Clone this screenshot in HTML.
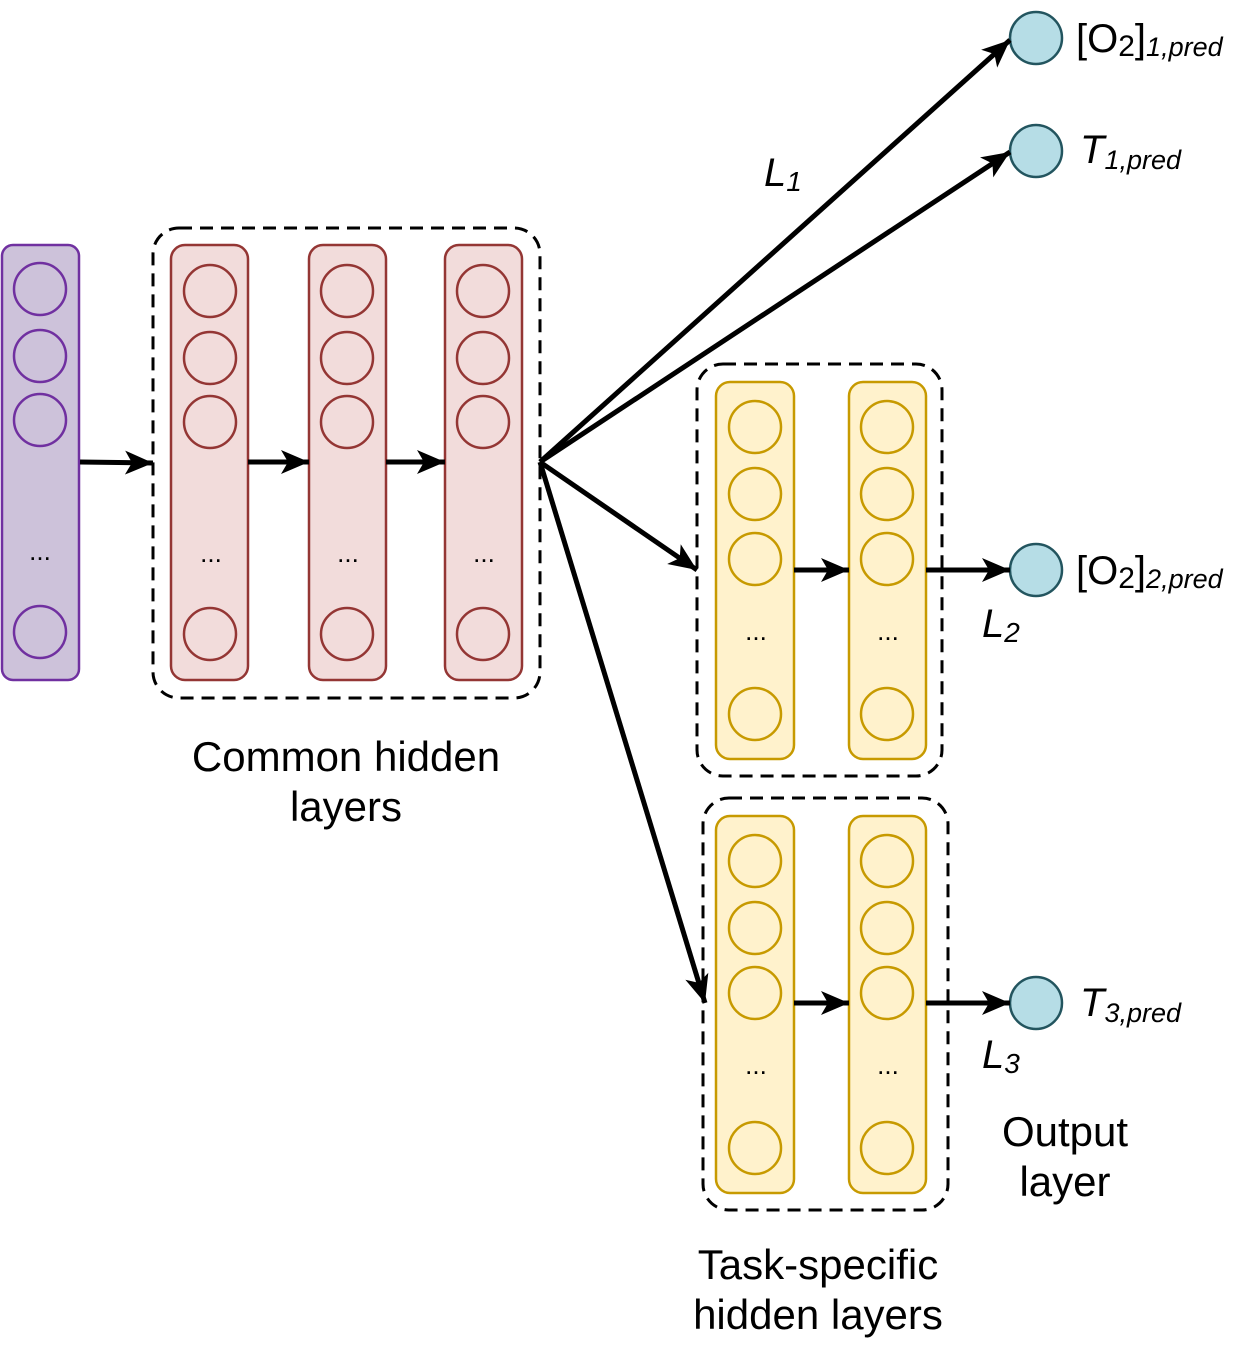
<!DOCTYPE html>
<html><head><meta charset="utf-8"><style>
html,body{margin:0;padding:0;background:#fff;}
svg{display:block;}
text{font-family:"Liberation Sans",Arial,sans-serif;}
</style></head><body>
<svg width="1243" height="1361" viewBox="0 0 1243 1361" xmlns="http://www.w3.org/2000/svg">
<defs>
<marker id="a" markerUnits="userSpaceOnUse" markerWidth="30" markerHeight="30" refX="28" refY="13" orient="auto" viewBox="0 0 30 26">
<path d="M0,1 L28,13 L0,25 L7,13 z" fill="#000"/>
</marker>
</defs>
<rect x="2" y="245" width="77" height="435" rx="11" fill="#cdc2da" stroke="#7030a0" stroke-width="2.5"/>
<g fill="none" stroke="#7030a0" stroke-width="2.5">
<circle cx="40" cy="289" r="26"/><circle cx="40" cy="356" r="26"/><circle cx="40" cy="420" r="26"/><circle cx="40" cy="632" r="26"/>
</g>
<text x="40" y="560" font-size="26" text-anchor="middle">...</text>
<rect x="153" y="228" width="387" height="470" rx="26" fill="none" stroke="#000" stroke-width="3" stroke-dasharray="13,8"/>
<g stroke="#943634" stroke-width="2.5">
<rect x="171" y="245" width="77" height="435" rx="14" fill="#f2dcdb"/>
<rect x="309" y="245" width="77" height="435" rx="14" fill="#f2dcdb"/>
<rect x="445" y="245" width="77" height="435" rx="14" fill="#f2dcdb"/>
<g fill="none">
<circle cx="210" cy="291" r="26"/><circle cx="210" cy="358" r="26"/><circle cx="210" cy="422" r="26"/><circle cx="210" cy="634" r="26"/>
<circle cx="347" cy="291" r="26"/><circle cx="347" cy="358" r="26"/><circle cx="347" cy="422" r="26"/><circle cx="347" cy="634" r="26"/>
<circle cx="483" cy="291" r="26"/><circle cx="483" cy="358" r="26"/><circle cx="483" cy="422" r="26"/><circle cx="483" cy="634" r="26"/>
</g></g>
<g font-size="26" text-anchor="middle">
<text x="211" y="562">...</text><text x="348" y="562">...</text><text x="484" y="562">...</text>
</g>
<rect x="697" y="364" width="245" height="412" rx="26" fill="none" stroke="#000" stroke-width="3" stroke-dasharray="13,8"/>
<rect x="703" y="798" width="245" height="412" rx="26" fill="none" stroke="#000" stroke-width="3" stroke-dasharray="13,8"/>
<g stroke="#c79a00" stroke-width="2.5">
<rect x="716" y="382" width="78" height="377" rx="14" fill="#fff2cc"/>
<rect x="849" y="382" width="77" height="377" rx="14" fill="#fff2cc"/>
<rect x="716" y="816" width="78" height="377" rx="14" fill="#fff2cc"/>
<rect x="849" y="816" width="77" height="377" rx="14" fill="#fff2cc"/>
<g fill="none">
<circle cx="755" cy="427" r="26"/><circle cx="755" cy="494" r="26"/><circle cx="755" cy="559" r="26"/><circle cx="755" cy="714" r="26"/>
<circle cx="887" cy="427" r="26"/><circle cx="887" cy="494" r="26"/><circle cx="887" cy="559" r="26"/><circle cx="887" cy="714" r="26"/>
<circle cx="755" cy="861" r="26"/><circle cx="755" cy="928" r="26"/><circle cx="755" cy="993" r="26"/><circle cx="755" cy="1148" r="26"/>
<circle cx="887" cy="861" r="26"/><circle cx="887" cy="928" r="26"/><circle cx="887" cy="993" r="26"/><circle cx="887" cy="1148" r="26"/>
</g></g>
<g font-size="26" text-anchor="middle">
<text x="756" y="640">...</text><text x="888" y="640">...</text>
<text x="756" y="1074">...</text><text x="888" y="1074">...</text>
</g>
<g fill="#b6dde6" stroke="#23555f" stroke-width="2.5">
<circle cx="1036" cy="38" r="26"/><circle cx="1036" cy="151" r="26"/><circle cx="1036" cy="570" r="26"/><circle cx="1036" cy="1003" r="26"/>
</g>
<g stroke="#000" stroke-width="5" fill="none" marker-end="url(#a)">
<line x1="80" y1="462" x2="153" y2="463"/>
<line x1="248" y1="462" x2="309" y2="462"/>
<line x1="386" y1="462" x2="445" y2="462"/>
<line x1="540" y1="462" x2="1010" y2="40"/>
<line x1="540" y1="462" x2="1010" y2="152"/>
<line x1="540" y1="462" x2="697" y2="570"/>
<line x1="540" y1="462" x2="705" y2="1003"/>
<line x1="794" y1="570" x2="849" y2="570"/>
<line x1="926" y1="570" x2="1010" y2="570"/>
<line x1="794" y1="1003" x2="849" y2="1003"/>
<line x1="926" y1="1003" x2="1010" y2="1003"/>
</g>
<g font-size="40">
<text x="1076" y="52">[O<tspan font-size="30" dy="4">2</tspan><tspan dy="-4">]</tspan><tspan font-size="27" font-style="italic" dy="4">1,pred</tspan></text>
<text x="1080" y="163" font-style="italic">T<tspan font-size="27" dy="6">1,pred</tspan></text>
<text x="1076" y="584">[O<tspan font-size="30" dy="4">2</tspan><tspan dy="-4">]</tspan><tspan font-size="27" font-style="italic" dy="4">2,pred</tspan></text>
<text x="1080" y="1016" font-style="italic">T<tspan font-size="27" dy="6">3,pred</tspan></text>
<text x="764" y="186" font-style="italic">L<tspan font-size="28" dy="5">1</tspan></text>
<text x="982" y="637" font-style="italic">L<tspan font-size="28" dy="5">2</tspan></text>
<text x="982" y="1068" font-style="italic">L<tspan font-size="28" dy="5">3</tspan></text>
</g>
<g font-size="42" text-anchor="middle">
<text x="346" y="771">Common hidden</text>
<text x="346" y="821">layers</text>
<text x="1065" y="1146">Output</text>
<text x="1065" y="1196">layer</text>
<text x="818" y="1279">Task-specific</text>
<text x="818" y="1329">hidden layers</text>
</g>
</svg>
</body></html>
